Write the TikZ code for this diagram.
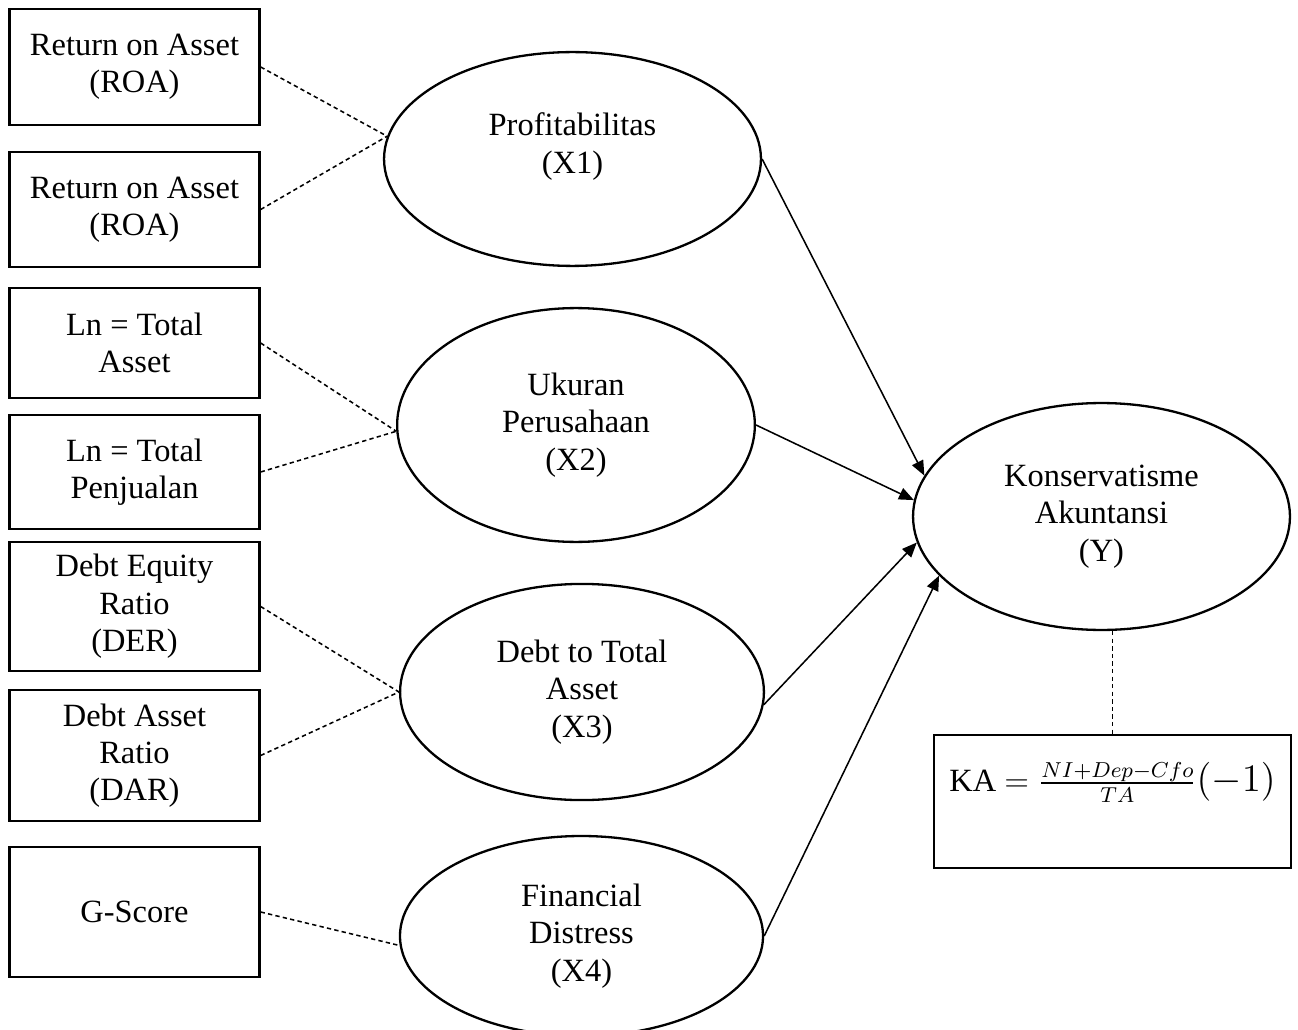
\documentclass[tikz,border=0pt]{standalone}
\usepackage{fontspec}
\setmainfont{Liberation Serif}
\usepackage{tikz}
\usetikzlibrary{arrows.meta,shapes.geometric}
\tikzset{
	indikator/.style={draw, line width=0.3mm, align=center, minimum width=3.25cm, inner sep=0pt},
	laten/.style={draw, ellipse, line width=0.3mm, align=center, inner sep=0pt},
	ukur/.style={line width=0.2mm, dash pattern=on 1.6pt off 1.2pt},
	pengaruh/.style={line width=0.2mm, -{Triangle[length=5.5pt,width=4.5pt]}}
}

\begin{document}
\begin{tikzpicture}[x=0.013cm, y=-0.013cm, font={\fontsize{12}{13.8}\selectfont}]
			%%%%% START %%%%%
			\useasboundingbox (0, 0) rectangle (1298, 1030);
			
			\node[indikator, minimum height=1.51cm] (roa1) at (134.5, 67) {Return on Asset\\(ROA)};
			\node[indikator, minimum height=1.50cm] (roa2) at (134.5, 209.5) {Return on Asset\\(ROA)};
			\node[indikator, minimum height=1.43cm] (lnta) at (134.5, 343) {Ln = Total\\Asset};
			\node[indikator, minimum height=1.48cm] (lntp) at (134.5, 472) {Ln = Total\\Penjualan};
			\node[indikator, minimum height=1.68cm] (der) at (134.5, 606.5) {Debt Equity\\Ratio\\(DER)};
			\node[indikator, minimum height=1.70cm] (dar) at (134.5, 755.5) {Debt Asset\\Ratio\\(DAR)};
			\node[indikator, minimum height=1.69cm] (gscore) at (134.5, 912) {G-Score};
			
			\node[laten, minimum width=4.90cm, minimum height=2.78cm, text depth=0.41cm] (x1) at (572.5, 159) {Profitabilitas\\(X1)};
			\node[laten, minimum width=4.65cm, minimum height=3.04cm] (x2) at (576, 425) {Ukuran\\Perusahaan\\(X2)};
			\node[laten, minimum width=4.73cm, minimum height=2.81cm] (x3) at (582, 692) {Debt to Total\\Asset\\(X3)};
			\node[laten, minimum width=4.72cm, minimum height=2.60cm] (x4) at (581.5, 936) {Financial\\Distress\\(X4)};
			\node[laten, minimum width=4.90cm, minimum height=2.95cm] (y) at (1101.5, 516.5) {Konservatisme\\Akuntansi\\(Y)};
			
			\node[indikator, minimum width=4.64cm, minimum height=1.73cm, text depth=0.65cm] (ka) at (1112.5, 801.5) {KA $=\frac{NI+Dep-Cfo}{TA}${\fontsize{14.5}{15}\selectfont$(-1)$}};
			
			\draw[ukur] (roa1.east) -- (x1.173);
			\draw[ukur] (roa2.east) -- (x1.173);
			\draw[ukur] (lnta.east) -- (x2.182);
			\draw[ukur] (lntp.east) -- (x2.182);
			\draw[ukur] (der.east) -- (x3.west);
			\draw[ukur] (dar.east) -- (x3.west);
			\draw[ukur] (gscore.east) -- (x4.183);
			\draw[ukur] (y.south -| ka.north) -- (ka.north);
			
			\draw[pengaruh] (x1.east) -- (y.167);
			\draw[pengaruh] (x2.east) -- (y.175);
			\draw[pengaruh] (x3.-4) -- (y.188);
			\draw[pengaruh] (x4.east) -- (y.200);
			%%%%% END %%%%%
\end{tikzpicture}
\end{document}
